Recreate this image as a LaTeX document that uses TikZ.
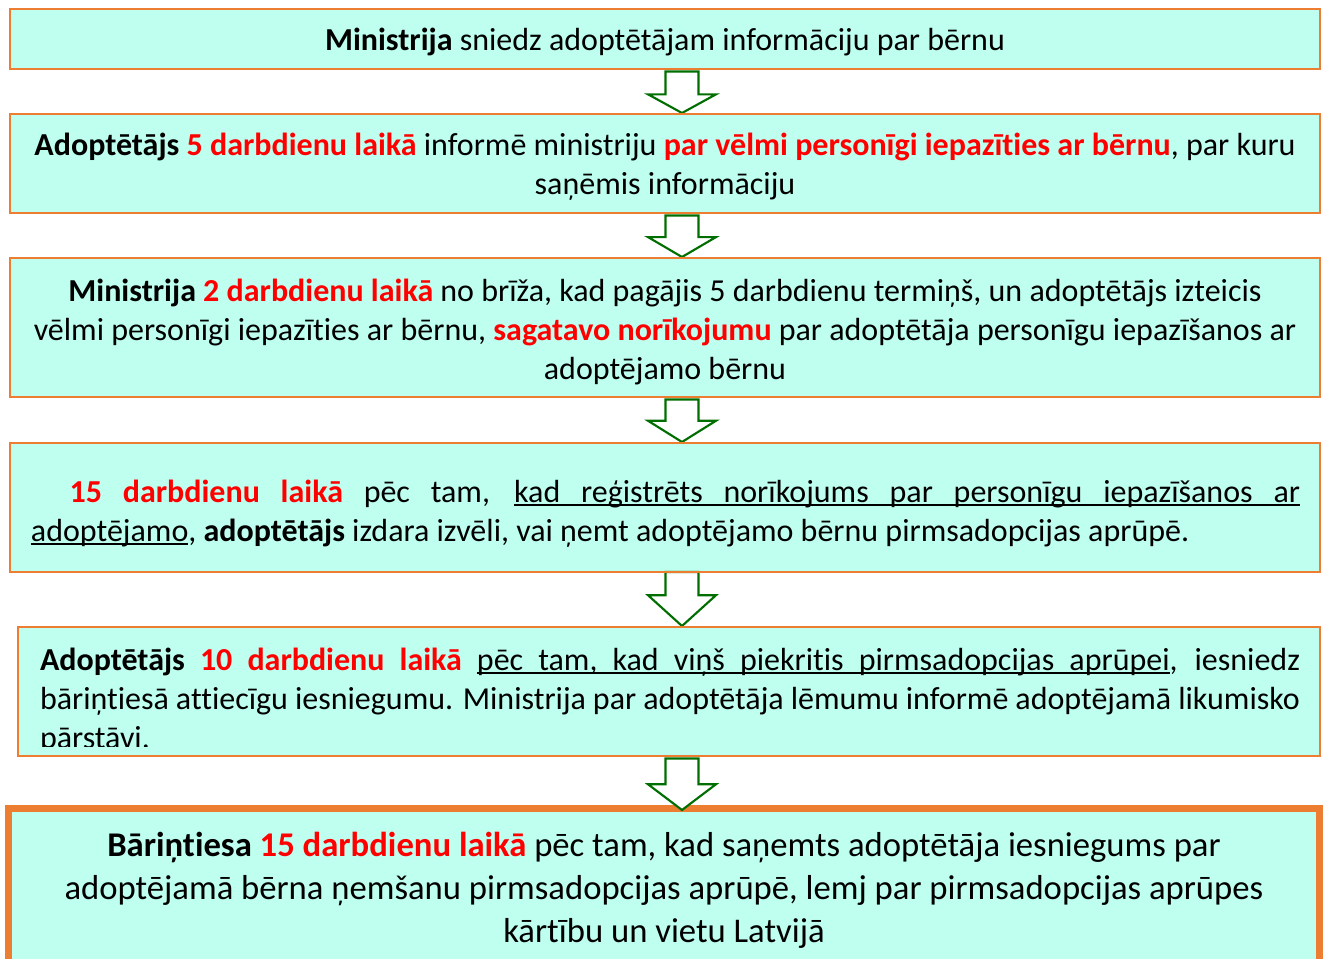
\documentclass[tikz,border=0pt]{standalone}
\usepackage{fontspec}
\setmainfont{Carlito}[Ligatures=NoCommon, RawFeature={-liga;-clig;-dlig}]
\usetikzlibrary{calc}
\definecolor{boxfill}{RGB}{190,255,240}
\definecolor{boxline}{RGB}{237,125,49}
\definecolor{hl}{RGB}{255,0,0}
\definecolor{arr}{RGB}{0,110,0}
\newcommand\hlt[1]{\textcolor{hl}{\textbf{#1}}}
\newcommand\mainfs{\fontsize{24}{29.25}\selectfont\hyphenpenalty=10000\exhyphenpenalty=10000\tolerance=10000}
\newcommand\bigfs{\fontsize{26}{32.25}\selectfont\hyphenpenalty=10000\tolerance=10000}
% underlined word and underlined stretchable space
\newcommand\ulw[1]{\setbox0\hbox{#1}\rlap{\vrule height -1.6pt depth 3.1pt width \wd0}\box0}
\newcommand\ulsp{\leaders\hrule height -1.6pt depth 3.1pt\hskip\fontdimen2\font plus \fontdimen3\font minus \fontdimen4\font\relax}
\tikzset{
  box/.style={draw=boxline, fill=boxfill, line width=2.1pt, inner sep=0pt, outer sep=0pt, minimum width=982.5pt},
  bigbox/.style={box, line width=5.5pt},
  edge/.style={boxline, line width=2.1pt},
  ctxt/.style={inner sep=0pt, align=flush center, font=\mainfs},
  jtxt/.style={inner sep=0pt, align=justify, font=\mainfs},
  blockarrow/.style={draw=arr, line width=1.6pt, fill=white, line join=miter},
}
% #1 top coordinate, #2 tip coordinate, #3 fraction of shaft
\newcommand\barrow[3]{%
  \coordinate (m) at ($(#1)!#3!(#2)$);
  \draw[blockarrow] ($(#1)+(-16.5,0)$) -- ($(m)+(-16.5,0)$) -- ($(m)+(-34,0)$) -- (#2)
     -- ($(m)+(34,0)$) -- ($(m)+(16.5,0)$) -- ($(#1)+(16.5,0)$) -- cycle;}
\begin{document}
\begin{tikzpicture}[x=0.75pt,y=-0.75pt]
\useasboundingbox (0,0) rectangle (1325,959);
\clip (0,0) rectangle (1325,959);
\coordinate (ax) at (682,0);
% boxes
\node[box, minimum height=45pt] (b1) at (665,39) {};
\node[box, minimum height=74.25pt] (b2) at (665,163.5) {};
\node[box, minimum height=104.25pt] (b3) at (665,327.5) {};
\node[box, minimum height=96.75pt] (b4) at (665,507.5) {};
\node[box, minimum width=976.5pt, minimum height=96.75pt] (b5) at (669,691.5) {};
\node[bigbox, minimum width=983.25pt, minimum height=124.875pt] (b6) at (664,891.75) {};
% arrows
\coordinate (a1t) at ($(b1.south -| ax)+(0,2.5)$); \coordinate (a1b) at ($(b2.north -| ax)+(0,-1)$);
\coordinate (a2t) at ($(b2.south -| ax)+(0,2.5)$); \coordinate (a2b) at ($(b3.north -| ax)+(0,-1)$);
\coordinate (a3t) at ($(b3.south -| ax)+(0,2.5)$); \coordinate (a3b) at ($(b4.north -| ax)+(0,-1)$);
\coordinate (a4t) at (b4.south -| ax); \coordinate (a4b) at ($(b5.north -| ax)+(0,-1)$);
\coordinate (a5t) at ($(b5.south -| ax)+(0,2.5)$); \coordinate (a5b) at ($(b6.north -| ax)+(0,1.5)$);
\barrow{a1t}{a1b}{0.55}
\barrow{a2t}{a2b}{0.52}
\barrow{a3t}{a3b}{0.5}
\barrow{a4t}{a4b}{0.43}
% redraw borders over arrow ends
\draw[edge] (b1.south west) -- (b1.south east);
\draw[edge] (b2.north west) -- (b2.north east) (b2.south west) -- (b2.south east);
\draw[edge] (b3.north west) -- (b3.north east) (b3.south west) -- (b3.south east);
\draw[edge] (b4.north west) -- (b4.north east) (b4.south west) -- (b4.south east);
\draw[edge] (b5.north west) -- (b5.north east) (b5.south west) -- (b5.south east);
\barrow{a5t}{a5b}{0.5}
% texts
\node[ctxt] (t1) at (665,42) {\textbf{Ministrija} sniedz adoptētājam informāciju par bērnu};
\node[ctxt, text width=975pt] (t2) at (665,166.5) {\textbf{Adoptētājs} \hlt{5 darbdienu laikā} informē ministriju \hlt{par vēlmi personīgi iepazīties ar bērnu}, par kuru\\ saņēmis informāciju};
\node[ctxt, text width=975pt] (t3) at (665,332) {\textbf{Ministrija} \hlt{2 darbdienu laikā} no brīža, kad pagājis 5 darbdienu termiņš, un adoptētājs izteicis\\ vēlmi personīgi iepazīties ar bērnu, \hlt{sagatavo norīkojumu} par adoptētāja personīgu iepazīšanos ar\\ adoptējamo bērnu};
\node[jtxt, text width=951.75pt] (t4) at (665.5,513.5) {\hspace*{29pt}\hlt{15 darbdienu laikā} pēc tam, \ulw{kad}\ulsp\ulw{reģistrēts}\ulsp\ulw{norīkojums}\ulsp\ulw{par}\ulsp\ulw{personīgu}\ulsp\ulw{iepazīšanos}\ulsp\ulw{ar}\linebreak \ulw{adoptējamo}, \textbf{adoptētājs} izdara izvēli, vai ņemt adoptējamo bērnu pirmsadopcijas aprūpē.};
\begin{scope}
\clip (b5.north west) rectangle (1320,746);
\node[jtxt, text width=945pt, anchor=north] (t5) at (670,647.5) {\textbf{Adoptētājs} \hlt{10 darbdienu laikā} \ulw{pēc}\ulsp\ulw{tam,}\ulsp\ulw{kad}\ulsp\ulw{viņš}\ulsp\ulw{piekritis}\ulsp\ulw{pirmsadopcijas}\ulsp\ulw{aprūpei}, iesniedz\linebreak bāriņtiesā attiecīgu iesniegumu. Ministrija par adoptētāja lēmumu informē adoptējamā likumisko\linebreak pārstāvi.};
\end{scope}
\node[inner sep=0pt, align=flush center, font=\bigfs] (t6) at (664,890) {\textbf{Bāriņtiesa} \hlt{15 darbdienu laikā} pēc tam, kad saņemts adoptētāja iesniegums par\\ adoptējamā bērna ņemšanu pirmsadopcijas aprūpē, lemj par pirmsadopcijas aprūpes\\ kārtību un vietu Latvijā};
\end{tikzpicture}
\end{document}
